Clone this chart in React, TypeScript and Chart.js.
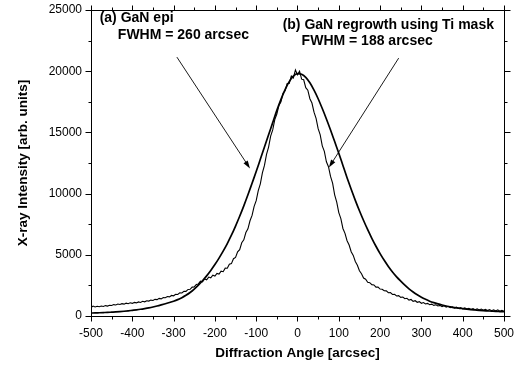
import { useEffect, useRef } from "react";
import { Chart, registerables } from "chart.js";

Chart.register(...registerables);

// ---- data ----
const angleStart = -500;
const epiStep = 10; // arcsec between samples of curve (a)
const regrowthStep = 5; // arcsec between samples of curve (b)

// (a) GaN epi, FWHM = 260 arcsec
const epiIntensity = [
  240, 250, 265, 280, 295, 315, 335, 360, 390, 425,
  465, 505, 550, 605, 665, 735, 815, 905, 1000, 1100,
  1210, 1340, 1500, 1690, 1920, 2200, 2520, 2880, 3280, 3720,
  4200, 4730, 5300, 5920, 6600, 7350, 8150, 9000, 9900, 10850,
  11800, 12800, 13800, 14800, 15800, 16800, 17700, 18500, 19150, 19600,
  19800,
  19750, 19500, 19050, 18450, 17750, 16950, 16100, 15200, 14250, 13300,
  12300, 11300, 10350, 9450, 8600, 7800, 7050, 6350, 5700, 5100,
  4550, 4050, 3600, 3200, 2850, 2520, 2220, 1960, 1730, 1530,
  1360, 1210, 1090, 990, 900, 820, 750, 690, 640, 600,
  560, 525, 495, 465, 440, 420, 400, 380, 365, 350,
];

// (b) GaN regrowth using Ti mask, FWHM = 188 arcsec
const regrowthIntensity = [
  700, 810, 740, 790, 760, 820, 780, 850, 810, 870,
  860, 930, 900, 980, 940, 1010, 970, 1050, 1000, 1080,
  1030, 1110, 1070, 1150, 1110, 1200, 1160, 1240, 1220, 1300,
  1270, 1360, 1340, 1440, 1400, 1510, 1490, 1590, 1560, 1680,
  1650, 1770, 1760, 1890, 1880, 2020, 2010, 2170, 2180, 2360,
  2380, 2580, 2620, 2850, 2790, 3020, 2960, 3180, 3120, 3330,
  3260, 3480, 3420, 3660, 3620, 3910, 3900, 4230, 4280, 4680,
  4780, 5240, 5420, 5980, 6220, 6820, 7120, 7780, 8220, 8960,
  9420, 10250, 10800, 11700, 12300, 13200, 13800, 14700, 15200, 16050,
  16500, 17200, 17500, 18200, 18400, 19000, 19000, 19600, 19450, 20100,
  19700,
  20000, 19350, 19300, 18650, 18450, 17750, 17400, 16650, 16150, 15300,
  14800, 13900, 13450, 12600, 12200, 11400, 10850, 9900, 9300, 8450,
  7950, 7150, 6750, 6150, 5800, 5250, 4950, 4450, 4150, 3700,
  3450, 3100, 3000, 2750, 2720, 2560, 2540, 2360, 2360, 2200,
  2190, 2060, 2050, 1900, 1920, 1760, 1780, 1640, 1660, 1520,
  1550, 1410, 1450, 1300, 1350, 1200, 1250, 1120, 1170, 1040,
  1100, 980, 1030, 920, 970, 870, 920, 820, 870, 770,
  830, 730, 790, 690, 750, 650, 720, 620, 690, 590,
  660, 570, 630, 530, 610, 510, 590, 490, 570, 470,
  550, 450, 530, 430, 510, 410, 500, 390, 470, 380,
];

const xTickValues = [-500, -400, -300, -200, -100, 0, 100, 200, 300, 400, 500];
const yTickValues = [0, 5000, 10000, 15000, 20000, 25000];
const xMinorStep = 50;
const yMinorStep = 2500;

const xTitle = "Diffraction Angle [arcsec]";
const yTitle = "X-ray Intensity [arb. units]";

// annotation texts, anchored in data units [angle, intensity]
const labelA = ["(a) GaN epi", "FWHM = 260 arcsec"];
const labelAAnchors = [[-479, 24300], [-435, 22950]];
const labelB = ["(b) GaN regrowth using Ti mask", "FWHM = 188 arcsec"];
const labelBAnchors = [[-36, 23770], [10, 22420]];
// arrows: [fromAngle, fromIntensity, toAngle, toIntensity]
const arrowA = [-292, 21150, -115, 12050];
const arrowB = [245, 21070, 76, 12130];

const FONT = '"Liberation Sans", Arial, Helvetica, sans-serif';

const pairs = (vals: number[], step: number) =>
  vals.map((v, i) => ({ x: angleStart + i * step, y: v }));

const decorPlugin = {
  id: "decor",
  afterDatasetsDraw(chart: any) {
    const { ctx, chartArea, scales } = chart;
    const xs = scales.x;
    const ys = scales.y;
    const { left, right, top, bottom } = chartArea;
    ctx.save();
    ctx.strokeStyle = "#000";
    ctx.fillStyle = "#000";
    ctx.lineWidth = 1;

    // frame
    ctx.strokeRect(Math.round(left) + 0.5, Math.round(top) + 0.5, Math.round(right - left), Math.round(bottom - top));

    // ticks (outward on all four sides)
    ctx.beginPath();
    for (let v = xs.min; v <= xs.max + 1e-6; v += xMinorStep) {
      const px = Math.round(xs.getPixelForValue(v)) + 0.5;
      const major = xTickValues.includes(v);
      const len = major ? 5 : 3;
      ctx.moveTo(px, Math.round(bottom) + 0.5);
      ctx.lineTo(px, Math.round(bottom) + 0.5 + len);
      ctx.moveTo(px, Math.round(top) + 0.5);
      ctx.lineTo(px, Math.round(top) + 0.5 - len);
    }
    for (let v = ys.min; v <= ys.max + 1e-6; v += yMinorStep) {
      const py = Math.round(ys.getPixelForValue(v)) + 0.5;
      const major = yTickValues.includes(v);
      const len = major ? 6 : 3;
      ctx.moveTo(Math.round(left) + 0.5, py);
      ctx.lineTo(Math.round(left) + 0.5 - len, py);
      ctx.moveTo(Math.round(right) + 0.5, py);
      ctx.lineTo(Math.round(right) + 0.5 + len, py);
    }
    ctx.stroke();

    // arrows
    const drawArrow = (a: number[]) => {
      const x1 = xs.getPixelForValue(a[0]);
      const y1 = ys.getPixelForValue(a[1]);
      const x2 = xs.getPixelForValue(a[2]);
      const y2 = ys.getPixelForValue(a[3]);
      const ang = Math.atan2(y2 - y1, x2 - x1);
      const hl = 8;
      const hw = 2.5;
      ctx.beginPath();
      ctx.lineWidth = 0.9;
      ctx.moveTo(x1, y1);
      ctx.lineTo(x2 - Math.cos(ang) * hl * 0.6, y2 - Math.sin(ang) * hl * 0.6);
      ctx.stroke();
      ctx.beginPath();
      ctx.moveTo(x2, y2);
      ctx.lineTo(x2 - Math.cos(ang) * hl - Math.sin(ang) * hw, y2 - Math.sin(ang) * hl + Math.cos(ang) * hw);
      ctx.lineTo(x2 - Math.cos(ang) * hl + Math.sin(ang) * hw, y2 - Math.sin(ang) * hl - Math.cos(ang) * hw);
      ctx.closePath();
      ctx.fill();
    };
    drawArrow(arrowA);
    drawArrow(arrowB);

    // labels
    ctx.font = `bold 14px ${FONT}`;
    ctx.textAlign = "left";
    ctx.textBaseline = "middle";
    const drawLabel = (lines: string[], anchors: number[][]) => {
      lines.forEach((t, i) => {
        ctx.fillText(t, xs.getPixelForValue(anchors[i][0]), ys.getPixelForValue(anchors[i][1]));
      });
    };
    drawLabel(labelA, labelAAnchors);
    drawLabel(labelB, labelBAnchors);
    ctx.restore();
  },
};

export default function App() {
  const ref = useRef<HTMLCanvasElement | null>(null);
  useEffect(() => {
    document.body.style.margin = "0";
    const canvas = ref.current;
    if (!canvas) return;
    const chart = new Chart(canvas, {
      type: "line",
      data: {
        datasets: [
          {
            label: labelB[0],
            data: pairs(regrowthIntensity, regrowthStep),
            borderColor: "#000",
            borderWidth: 1.1,
            pointRadius: 0,
            tension: 0,
            fill: false,
          },
          {
            label: labelA[0],
            data: pairs(epiIntensity, epiStep),
            borderColor: "#000",
            borderWidth: 1.7,
            pointRadius: 0,
            cubicInterpolationMode: "monotone",
            fill: false,
          },
        ],
      },
      options: {
        animation: false,
        responsive: false,
        devicePixelRatio: 1,
        layout: { padding: { top: 10, right: 5, left: 0, bottom: 0 } },
        plugins: {
          legend: { display: false },
          tooltip: { enabled: false },
          title: { display: false },
        },
        scales: {
          x: {
            type: "linear",
            min: -500,
            max: 500,
            grid: { display: false },
            border: { display: false },
            afterBuildTicks: (s: any) => {
              s.ticks = xTickValues.map((v) => ({ value: v }));
            },
            afterFit: (s: any) => {
              s.height = 50;
            },
            ticks: {
              color: "#000",
              padding: 2,
              font: { family: FONT, size: 12 },
              callback: (v: any) => String(v),
              maxRotation: 0,
              autoSkip: false,
            },
            title: {
              display: true,
              text: xTitle,
              color: "#000",
              font: { family: FONT, size: 13.5, weight: "bold" },
              padding: { top: 0, bottom: 5 },
            },
          },
          y: {
            min: 0,
            max: 25000,
            grid: { display: false },
            border: { display: false },
            afterBuildTicks: (s: any) => {
              s.ticks = yTickValues.map((v) => ({ value: v }));
            },
            afterFit: (s: any) => {
              s.width = 91;
            },
            ticks: {
              color: "#000",
              padding: 1,
              font: { family: FONT, size: 12 },
              callback: (v: any) => String(v),
              autoSkip: false,
            },
            title: {
              display: true,
              text: yTitle,
              color: "#000",
              font: { family: FONT, size: 13.5, weight: "bold" },
              padding: { top: 15, bottom: 0 },
            },
          },
        },
      },
      plugins: [decorPlugin],
    });
    return () => chart.destroy();
  }, []);
  return (
    <div style={{ width: 516, height: 366, background: "#fff" }}>
      <canvas ref={ref} width={516} height={366} style={{ display: "block" }} />
    </div>
  );
}
